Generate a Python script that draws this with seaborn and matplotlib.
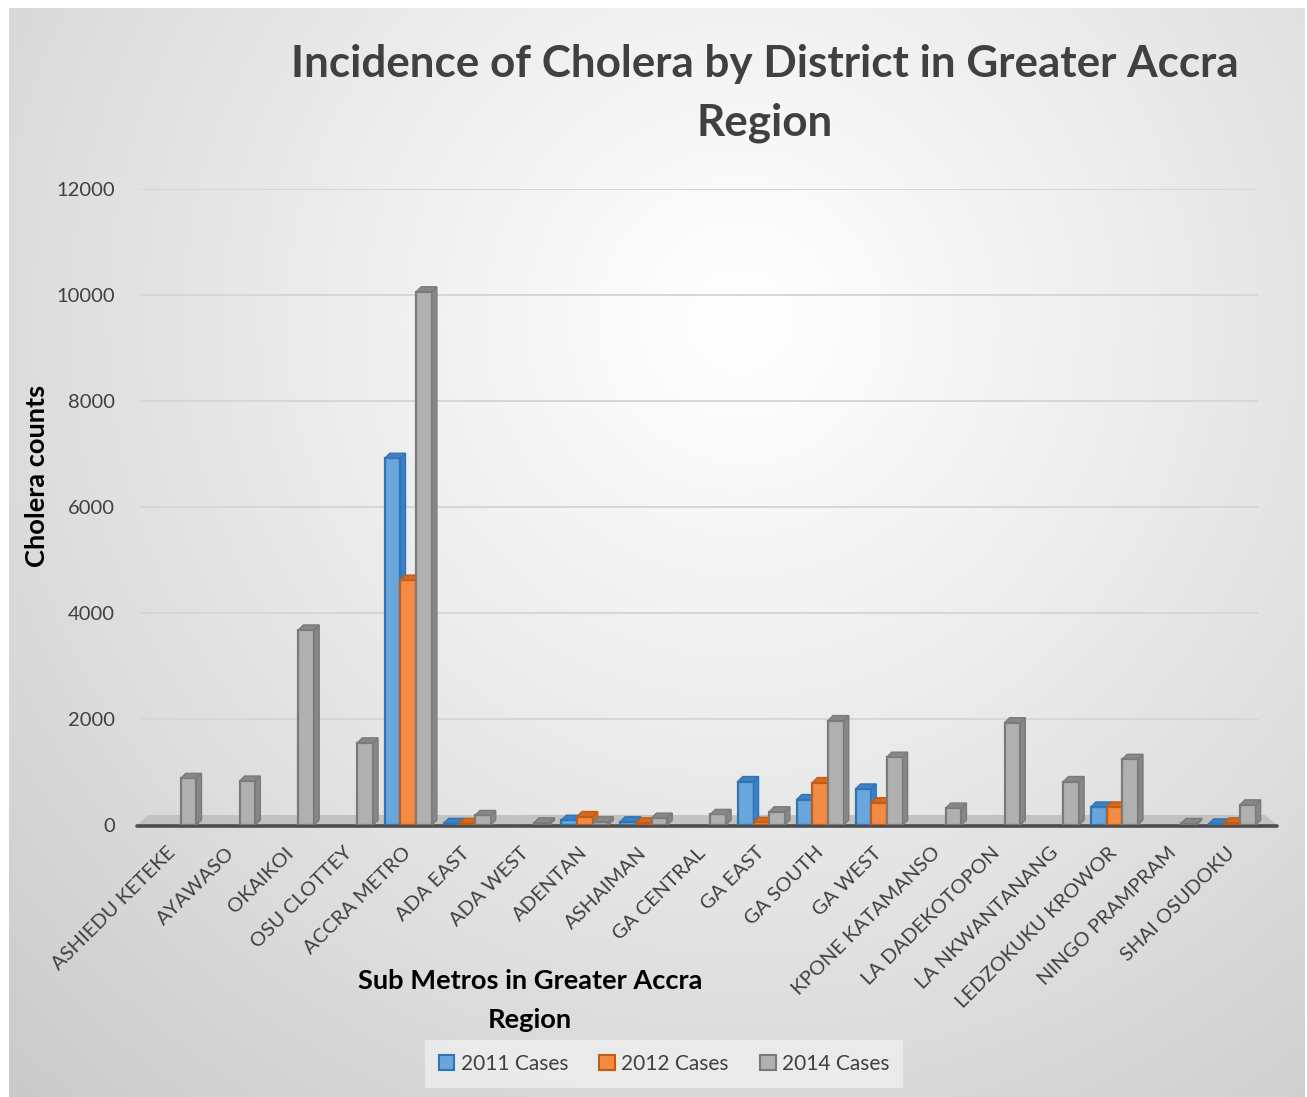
import numpy as np
import pandas as pd
import matplotlib
matplotlib.use("Agg")
import matplotlib.pyplot as plt
import seaborn as sns
from matplotlib.patches import Polygon, Patch
from matplotlib.lines import Line2D
from matplotlib.transforms import IdentityTransform

# ---- data -------------------------------------------------------------
districts = [
    "ASHIEDU KETEKE", "AYAWASO", "OKAIKOI", "OSU CLOTTEY", "ACCRA METRO",
    "ADA EAST", "ADA WEST", "ADENTAN", "ASHAIMAN", "GA CENTRAL", "GA EAST",
    "GA SOUTH", "GA WEST", "KPONE KATAMANSO", "LA DADEKOTOPON",
    "LA NKWANTANANG", "LEDZOKUKU KROWOR", "NINGO PRAMPRAM", "SHAI OSUDOKU",
]
cases_2011 = [0, 0, 0, 0, 6920, 30, 0, 90, 60, 0, 820, 480, 680, 0, 0, 0, 340, 0, 20]
cases_2012 = [0, 0, 0, 0, 4620, 30, 0, 160, 40, 0, 50, 800, 420, 0, 0, 0, 340, 0, 40]
cases_2014 = [880, 830, 3680, 1550, 10060, 180, 40, 60, 130, 200, 250, 1970, 1280,
              320, 1930, 820, 1240, 30, 380]
series_labels = ["2011 Cases", "2012 Cases", "2014 Cases"]
y_ticks = [0, 2000, 4000, 6000, 8000, 10000, 12000]

face_colors = ["#6aa5dc", "#f18b46", "#b0b0b0"]
edge_colors = ["#2e75b6", "#c55a11", "#7a7a7a"]
side_colors = ["#3f80c4", "#d46a22", "#878787"]

df = pd.DataFrame({
    "district": districts * 3,
    "cases": cases_2011 + cases_2012 + cases_2014,
    "series": [s for s in series_labels for _ in districts],
})

# ---- figure -----------------------------------------------------------
sns.set_theme(style="white")
plt.rcParams["font.family"] = ["Lato", "DejaVu Sans"]

W, H = 1307, 1097
fig = plt.figure(figsize=(W / 100, H / 100), dpi=100)

# radial gradient backdrop of the chart area
bg = fig.add_axes([0, 0, 1, 1], zorder=-10)
bg.axis("off")
yy, xx = np.mgrid[0:H, 0:W]
cx, cy = 740, 320
r = np.hypot(xx - cx, yy - cy)
r = r / r.max()
v = 1.0 - 0.21 * r ** 1.1
v[(xx < 9) | (yy < 8) | (xx > 1304)] = 1.0
bg.imshow(np.dstack([v, v, v]), extent=[0, W, H, 0], aspect="auto",
          interpolation="bilinear")
bg.set_xlim(0, W)
bg.set_ylim(H, 0)

ax = fig.add_axes([140 / W, 1 - 825 / H, (1258 - 140) / W, (825 - 189) / H])
ax.patch.set_alpha(0)

sns.barplot(data=df, x="district", y="cases", hue="series",
            palette=face_colors, width=0.8, saturation=1, ax=ax,
            legend=False, errorbar=None)

ax.set_xlim(-0.56, len(districts) - 0.56)
ax.set_ylim(0, 12000)
ax.set_yticks(y_ticks)
ax.set_yticklabels([str(t) for t in y_ticks])
ax.yaxis.grid(True, color="#d6d6d6", lw=1.4)
ax.set_axisbelow(True)
for s in ax.spines.values():
    s.set_visible(False)
ax.set_xlabel("")
ax.set_ylabel("")
ax.tick_params(axis="y", length=0, pad=18, labelsize=14.5, labelcolor="#404040")
ax.tick_params(axis="x", length=0, pad=18, labelsize=14.5, labelcolor="#404040")
for lab in ax.get_xticklabels():
    lab.set_rotation(45)
    lab.set_ha("right")
    lab.set_va("center")
    lab.set_rotation_mode("anchor")

# floor slab under the bars (pixel coordinates)
ident = IdentityTransform()
def px(x, y):
    return (x, H - y)

ax.add_patch(Polygon([px(137, 825), px(1277, 825), px(1265, 815), px(148, 815)],
                     closed=True, facecolor="#c2c2c2", edgecolor="none",
                     transform=ident, zorder=1.2, clip_on=False))
ax.add_line(Line2D([137, 1277], [H - 825.5, H - 825.5], color="#4d4d4d",
                   lw=2.6, transform=ident, zorder=1.3, clip_on=False))

# bar styling with depth faces
dx, dy = 5, 5
for hi, cont in enumerate(ax.containers):
    for bar in cont:
        h = bar.get_height()
        bar.set_zorder(2 + hi * 0.1)
        bar.set_edgecolor(edge_colors[hi])
        bar.set_linewidth(1.6)
        if not h or h <= 0:
            bar.set_visible(False)
            continue
        x0, y0 = bar.get_x(), 0
        x1, y1 = x0 + bar.get_width(), h
        (X0, Y0), (X1, Y1) = ax.transData.transform([(x0, y0), (x1, y1)])
        side = Polygon([(X1, Y0), (X1 + dx, Y0 + dy), (X1 + dx, Y1 + dy), (X1, Y1)],
                       closed=True, facecolor=side_colors[hi],
                       edgecolor=edge_colors[hi], lw=1.0, transform=ident,
                       zorder=2 + hi * 0.1 + 0.01, clip_on=False)
        top = Polygon([(X0, Y1), (X0 + dx, Y1 + dy), (X1 + dx, Y1 + dy), (X1, Y1)],
                      closed=True, facecolor=side_colors[hi],
                      edgecolor=edge_colors[hi], lw=1.0, transform=ident,
                      zorder=2 + hi * 0.1 + 0.02, clip_on=False)
        ax.add_patch(side)
        ax.add_patch(top)

# ---- texts ------------------------------------------------------------
title_kw = dict(ha="center", va="center", fontsize=31.7, fontweight="bold",
                color="#404040")
fig.text(765 / W, 1 - 64 / H, "Incidence of Cholera by District in Greater Accra",
         **title_kw)
fig.text(765 / W, 1 - 123 / H, "Region", **title_kw)

lab_kw = dict(ha="center", va="center", fontsize=19.6, fontweight="bold",
              color="black")
fig.text(37 / W, 1 - 476 / H, "Cholera counts", rotation=90, **lab_kw)
fig.text(530 / W, 1 - 981 / H, "Sub Metros in Greater Accra", **lab_kw)
fig.text(530 / W, 1 - 1020 / H, "Region", **lab_kw)

handles = [Patch(facecolor=f, edgecolor=e, lw=1.5, label=l)
           for f, e, l in zip(face_colors, edge_colors, series_labels)]
leg = fig.legend(handles=handles, loc="center", ncol=3,
                 bbox_to_anchor=(664 / W, 1 - 1064 / H), frameon=True,
                 fontsize=15, labelcolor="#404040", handlelength=0.75,
                 handleheight=0.75, handletextpad=0.3, columnspacing=1.5,
                 borderpad=0.65, fancybox=False)
leg.get_frame().set_facecolor("#ececec")
leg.get_frame().set_edgecolor("none")
leg.get_frame().set_alpha(0.9)

fig.savefig("out.png", dpi=100)
